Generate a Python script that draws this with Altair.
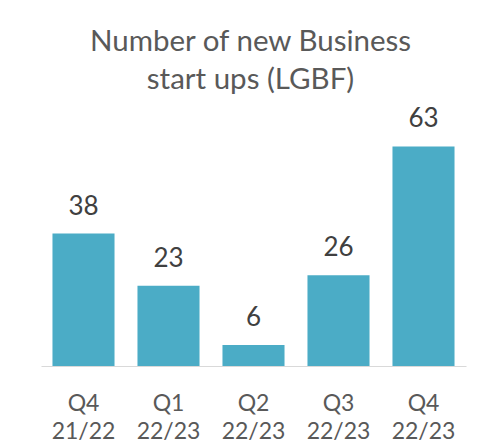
import altair as alt
import pandas as pd

categories = ["Q4 21/22", "Q1 22/23", "Q2 22/23", "Q3 22/23", "Q4 22/23"]
values = [38, 23, 6, 26, 63]

df = pd.DataFrame({"period": categories, "count": values})

FONT = "Lato"
BAR = "#4BACC6"

x = alt.X(
    "period:N",
    sort=categories,
    title=None,
    scale=alt.Scale(paddingInner=0.27, paddingOuter=0.135),
    axis=alt.Axis(
        labelAngle=0,
        labelExpr="split(datum.label, ' ')",
        labelFont=FONT,
        labelFontSize=23,
        labelColor="#595959",
        labelLineHeight=28,
        labelBaseline="alphabetic",
        labelPadding=44,
        ticks=False,
        tickSize=0,
        domainColor="#D9D9D9",
        domainWidth=1,
        grid=False,
    ),
)
y = alt.Y("count:Q", scale=alt.Scale(domain=[0, 70]), axis=None)

bars = alt.Chart(df).mark_bar(color=BAR).encode(x=x, y=y)
labels = alt.Chart(df).mark_text(
    font=FONT, fontSize=26, color="#404040", baseline="alphabetic", dy=-19
).encode(x=x, y=y, text="count:Q")

chart = (
    alt.layer(bars, labels)
    .properties(
        width=425,
        height=244,
        autosize=alt.AutoSizeParams(type="none"),
        padding={"left": 33, "top": 114, "right": 18, "bottom": 80},
        background="white",
        title=alt.TitleParams(
            text=["Number of new Business", "start ups (LGBF)"],
            font=FONT,
            fontSize=29.5,
            fontWeight="normal",
            color="#595959",
            lineHeight=38,
            baseline="alphabetic",
            offset=-12,
            anchor="middle",
            dx=-3,
        ),
    )
    .configure_view(stroke="transparent", strokeWidth=0)
)

chart.save("out.html", embed_options={"renderer": "svg", "actions": False})
